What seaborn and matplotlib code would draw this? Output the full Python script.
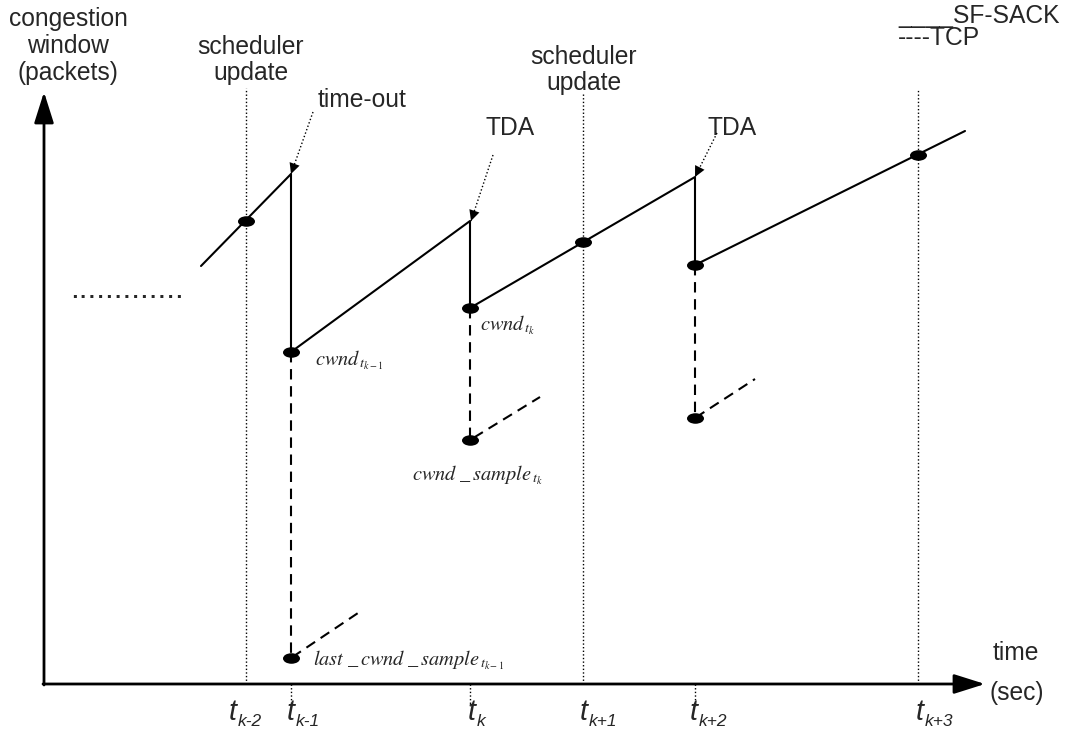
import matplotlib
matplotlib.use("Agg")
import numpy as np
import pandas as pd
import matplotlib.pyplot as plt
import seaborn as sns
from matplotlib.path import Path
from matplotlib.markers import MarkerStyle

sns.set_theme(style="white")
plt.rcParams["font.family"] = ["Liberation Sans", "DejaVu Sans"]

# ---------------- data (schematic units: x = time, y = congestion window) ----
sfsack_x = [157, 247, 247, 426, 426, 651, 651, 921]
sfsack_y = [418, 510, 332, 463, 376, 507, 419, 553]

tcp_seg = [0, 0, 0, 1, 1, 1, 2, 2, 2]
tcp_x = [247, 247, 314, 426, 426, 496, 651, 651, 711]
tcp_y = [332, 26, 71, 376, 244, 287, 419, 266, 305]

pts_x = [202, 247, 247, 426, 426, 539, 651, 651, 874]
pts_y = [463, 332, 26, 376, 244, 442, 419, 266, 529]

tick_x = [202, 247, 426, 539, 651, 874]
tick_subs = ["k-2", "k-1", "k", "k+1", "k+2", "k+3"]
full_lines = [202, 539, 874]          # scheduler updates / t_{k+3}
full_tops = [596, 592, 594]
short_lines = [247, 426, 651]

events = ["time-out", "TDA", "TDA"]
event_tip_x = [247, 427, 651]
event_tip_y = [510, 463, 507]

# ---------------- figure --------------------------------------------------
fig = plt.figure(figsize=(10.66, 7.37), dpi=100)
ax = fig.add_axes([0, 0, 1, 1])
ax.set_xlim(-44, 1022)
ax.set_ylim(-53, 684)
ax.axis("off")

FS = 17.7
dotted = (0, (1, 1.6))

# vertical dotted guide lines
for x, top in zip(full_lines, full_tops):
    ax.plot([x, x], [0, top], color="black", lw=1.0, ls=dotted, zorder=1)
for x in short_lines:
    ax.plot([x, x], [0, -22], color="black", lw=1.0, ls=dotted, zorder=1)

# axes arrows
arrow_kw = dict(arrowstyle="-|>,head_length=0.95,head_width=0.3", mutation_scale=20,
                lw=2.0, color="black", shrinkA=0, shrinkB=0)
ax.annotate("", xy=(0, 592), xytext=(0, -1), arrowprops=arrow_kw, zorder=3)
ax.annotate("", xy=(941, 0), xytext=(-1, 0), arrowprops=arrow_kw, zorder=3)

# SF-SACK (solid) and TCP (dashed)
sns.lineplot(x=sfsack_x, y=sfsack_y, sort=False, estimator=None, color="black",
             lw=1.5, ax=ax, zorder=4)
tcp_df = pd.DataFrame({"x": tcp_x, "y": tcp_y, "seg": tcp_seg})
sns.lineplot(data=tcp_df, x="x", y="y", units="seg", estimator=None, sort=False,
             color="black", lw=1.5, ls=(0, (5, 3.2)), ax=ax, zorder=4)

# ellipse markers
circ = Path.unit_circle()
ell = Path(circ.vertices * np.array([1.0, 0.62]), circ.codes)
sns.scatterplot(x=pts_x, y=pts_y, marker=MarkerStyle(ell), s=150, color="black",
                edgecolor="black", linewidth=0, ax=ax, zorder=5)

# event annotations (dotted leader + arrow head)
ev_text_pos = [(274, 584), (441, 556), (664, 556)]
ev_start = [(269, 572), (449, 529), (673, 551)]
for name, (tx, ty), (sx, sy), ex, ey in zip(events, ev_text_pos, ev_start,
                                            event_tip_x, event_tip_y):
    ax.text(tx, ty, name, fontsize=FS, ha="left", va="center")
    ax.plot([sx, ex], [sy, ey], color="black", lw=1.0, ls=dotted, zorder=3)
    dx, dy = ex - sx, ey - sy
    L = np.hypot(dx, dy)
    bx, by = ex - dx / L * 10, ey - dy / L * 10
    ax.annotate("", xy=(ex, ey), xytext=(bx, by),
                arrowprops=dict(arrowstyle="-|>,head_length=0.55,head_width=0.27",
                                mutation_scale=14, lw=0.01, color="black",
                                shrinkA=0, shrinkB=0), zorder=6)

# tick labels: italic "t" with italic subscript
tick_dx = [-17, -4, -2, -3, -5, -2]
for x, sub, d in zip(tick_x, tick_subs, tick_dx):
    ax.text(x + d, -36, "t", fontsize=FS + 3, style="italic", ha="left",
            va="baseline")
    ax.annotate(sub, xy=(x + d, -36), xytext=(6.3, -4.5), textcoords="offset points",
                fontsize=12.5, style="italic", ha="left", va="baseline")

# axis titles & texts
ax.text(24, 638, "congestion\nwindow\n(packets)", fontsize=FS, ha="center",
        va="center", multialignment="center", linespacing=1.15)
ax.text(207, 624, "scheduler\nupdate", fontsize=FS, ha="center", va="center",
        multialignment="center", linespacing=1.15)
ax.text(540, 614, "scheduler\nupdate", fontsize=FS, ha="center", va="center",
        multialignment="center", linespacing=1.15)
ax.text(972, 31, "time", fontsize=FS, ha="center", va="center")
ax.text(973, -9, "(sec)", fontsize=FS, ha="center", va="center")
ax.text(26, 394, ".............", fontsize=22.5, ha="left", va="center")

# legend as text
ax.text(854, 668, "____SF-SACK", fontsize=FS, ha="left", va="center")
ax.text(854, 646, "----TCP", fontsize=FS, ha="left", va="center")

# math labels (Times-like)
MFS = 14.7
ax.text(271, 319, r"$cwnd_{\,t_{k-1}}$", fontsize=MFS, ha="left", va="baseline",
        math_fontfamily="stix")
ax.text(436, 354, r"$cwnd_{\,t_{k}}$", fontsize=MFS, ha="left", va="baseline",
        math_fontfamily="stix")
ax.text(368, 204, r"$cwnd\ \_\,sample_{\,t_{k}}$", fontsize=MFS, ha="left",
        va="baseline", math_fontfamily="stix")
ax.text(269, 19, r"$last\ \_\,cwnd\ \_\,sample_{\,t_{k-1}}$", fontsize=MFS,
        ha="left", va="baseline", math_fontfamily="stix")

fig.savefig("out.png", dpi=100, facecolor="white")
